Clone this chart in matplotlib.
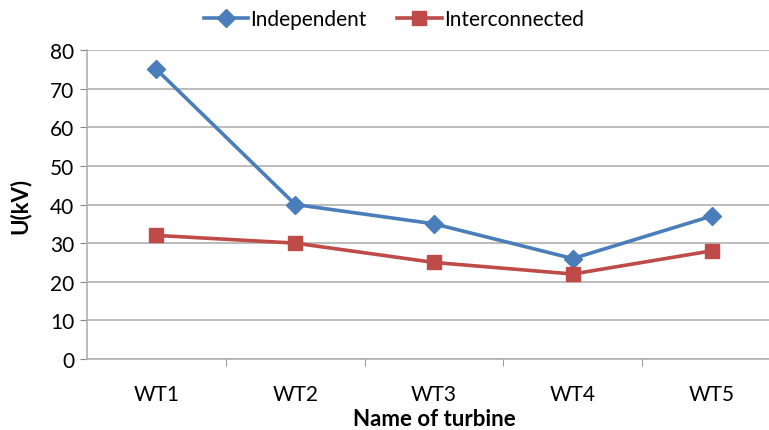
import matplotlib
matplotlib.use("Agg")
import matplotlib.pyplot as plt
import numpy as np

plt.rcParams['font.family'] = ['Lato', 'DejaVu Sans']

turbines = ["WT1", "WT2", "WT3", "WT4", "WT5"]
independent = [75, 40, 35, 26, 37]
interconnected = [32, 30, 25, 22, 28]

fig = plt.figure(figsize=(7.69, 4.31), dpi=100)
# axes run a bit past the right edge, like the cropped original
ax = fig.add_axes([0.1131, 0.1647, 0.9025, 0.717])

x = np.arange(len(turbines))
ax.plot(x, independent, color="#4A7EBB", lw=2.6, marker="D", ms=9,
        label="Independent")
ax.plot(x, interconnected, color="#BE4B48", lw=2.6, marker="s", ms=10,
        label="Interconnected")

ax.set_xlim(-0.5, 4.5)
ax.set_ylim(0, 80)
ax.set_yticks(range(0, 81, 10))
ax.set_xticks(x)
ax.set_xticklabels(turbines)
ax.set_xticks(np.arange(0.5, 4.5, 1), minor=True)
ax.tick_params(axis="x", which="major", length=0, labelsize=15, pad=18)
ax.tick_params(axis="x", which="minor", length=5, color="#868686")
ax.tick_params(axis="y", length=5, color="#868686", labelsize=15, pad=4)

ax.grid(axis="y", color="#b0b0b0", lw=1.2)
ax.set_axisbelow(True)
for s in ["top", "right"]:
    ax.spines[s].set_visible(False)
for s in ["left", "bottom"]:
    ax.spines[s].set_color("#b0b0b0")
    ax.spines[s].set_linewidth(1.2)

ax.set_ylabel("U(kV)", fontsize=16, fontweight="bold", labelpad=14)
ax.set_xlabel("Name of turbine", fontsize=16, fontweight="bold", labelpad=3)

fig.legend(loc="upper center", bbox_to_anchor=(0.512, 1.02), ncol=2, frameon=False,
           fontsize=15, handlelength=2.15, columnspacing=1.45, handletextpad=0.1)

fig.savefig("out.png", dpi=100)
